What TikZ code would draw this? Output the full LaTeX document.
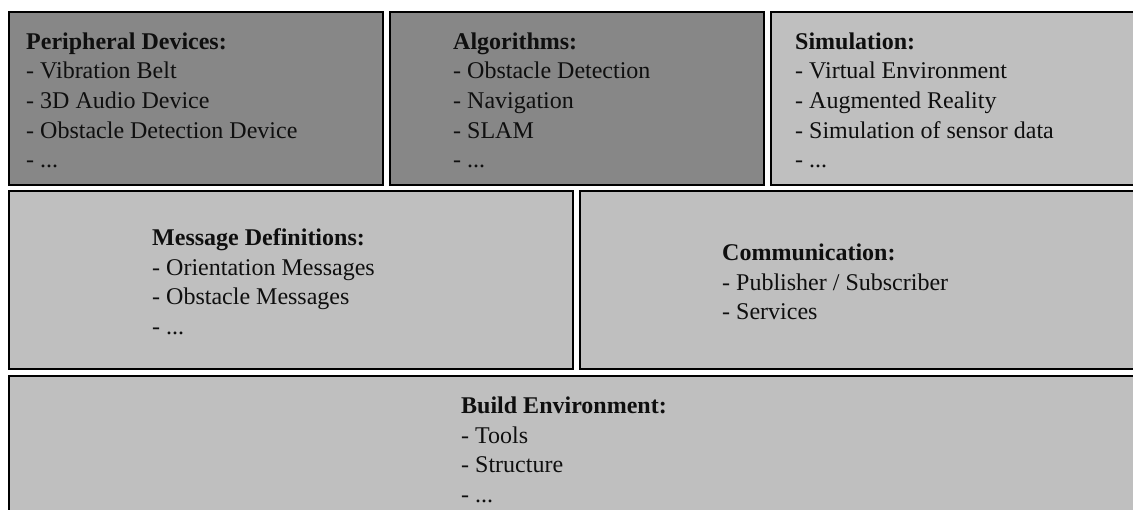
\documentclass[tikz,border=0pt]{standalone}
\usepackage{fontspec}
\setmainfont{Liberation Serif}
\definecolor{darkpanel}{RGB}{135,135,135}
\definecolor{lightpanel}{RGB}{191,191,191}
\definecolor{inktext}{RGB}{15,15,15}
\newcommand{\paneltext}[1]{\parbox[t]{12cm}{\raggedright\fontsize{24}{29.7}\selectfont #1}}
\begin{document}
\begin{tikzpicture}[x=1pt,y=-1pt,
  panel/.style={draw=black, line width=2.2pt, rectangle, inner sep=0pt, anchor=north west},
  darkbox/.style={panel, fill=darkpanel},
  lightbox/.style={panel, fill=lightpanel},
  paneltxt/.style={anchor=base west, inner sep=0pt, text=inktext}]
  \useasboundingbox (0,0) rectangle (1133,509);
  \fill[white] (0,0) rectangle (1133,509);
  \clip (0,0) rectangle (1133,509);

  % top row
  \node[darkbox, minimum width=374pt, minimum height=173pt] (periph) at (8,11) {};
  \node[darkbox, minimum width=374pt, minimum height=173pt] (algo) at (389,11) {};
  \node[lightbox, minimum width=380pt, minimum height=173pt] (sim) at (770,11) {};

  % middle row
  \node[lightbox, minimum width=564pt, minimum height=178pt] (msg) at (8,190) {};
  \node[lightbox, minimum width=570pt, minimum height=178pt] (comm) at (579,190) {};

  % bottom row
  \node[lightbox, minimum width=1140pt, minimum height=150pt] (build) at (8,375) {};

  % panel contents
  \node[paneltxt] (periphtxt) at (26,49) {\paneltext{\textbf{Peripheral Devices:}\\
    - Vibration Belt\\ - 3D Audio Device\\ - Obstacle Detection Device\\ - ...}};
  \node[paneltxt] (algotxt) at (453,49) {\paneltext{\textbf{Algorithms:}\\
    - Obstacle Detection\\ - Navigation\\ - SLAM\\ - ...}};
  \node[paneltxt] (simtxt) at (795,49) {\paneltext{\textbf{Simulation:}\\
    - Virtual Environment\\ - Augmented Reality\\ - Simulation of sensor data\\ - ...}};
  \node[paneltxt] (msgtxt) at (152,245.5) {\paneltext{\textbf{Message Definitions:}\\
    - Orientation Messages\\ - Obstacle Messages\\ - ...}};
  \node[paneltxt] (commtxt) at (722,260.5) {\paneltext{\textbf{Communication:}\\
    - Publisher / Subscriber\\ - Services}};
  \node[paneltxt] (buildtxt) at (461,413.5) {\paneltext{\textbf{Build Environment:}\\
    - Tools\\ - Structure\\ - ...}};
\end{tikzpicture}
\end{document}
